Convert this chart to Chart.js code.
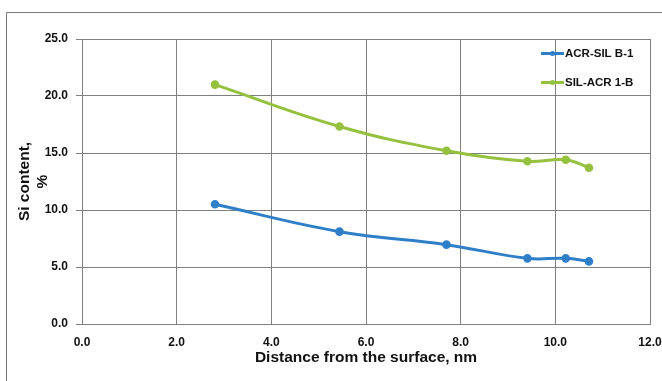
<!DOCTYPE html>
<html>
<head>
<meta charset="utf-8">
<script src="https://cdn.jsdelivr.net/npm/chart.js@4.4.1/dist/chart.umd.min.js"></script>
<style>
  html, body { margin: 0; padding: 0; background: #fff; }
  #wrap { position: relative; width: 662px; height: 381px; }
</style>
</head>
<body>
<div id="wrap"><canvas id="si" width="662" height="381"></canvas></div>
<script>
// distance from the surface (nm) and Si content (%) per profile
const depthAcrSil = [2.81, 5.44, 7.70, 9.41, 10.22, 10.71];
const siAcrSil = [10.5, 8.1, 6.96, 5.76, 5.76, 5.49];
const depthSilAcr = [2.81, 5.44, 7.70, 9.41, 10.22, 10.71];
const siSilAcr = [21.0, 17.33, 15.2, 14.27, 14.41, 13.71];
const seriesNames = ['ACR-SIL B-1', 'SIL-ACR 1-B'];
const seriesColors = ['#2f7fc8', '#95c13f'];

const FONT = 'Liberation Sans';
const gridColor = '#7f7f7f';

const toPoints = (xs, ys) => xs.map((x, i) => ({ x: x, y: ys[i] }));

// frame around the figure plus the legend drawn inside the plot
const framePlugin = {
  id: 'frame',
  beforeDraw(chart) {
    const ctx = chart.ctx;
    ctx.save();
    ctx.fillStyle = '#fff';
    ctx.fillRect(0, 0, chart.width, chart.height);
    ctx.strokeStyle = '#7a7a7a';
    ctx.lineWidth = 1;
    ctx.beginPath();
    ctx.moveTo(6.5, chart.height);
    ctx.lineTo(6.5, 12.5);
    ctx.lineTo(chart.width, 12.5);
    ctx.stroke();
    ctx.restore();
  },
  afterDraw(chart) {
    const ctx = chart.ctx;
    const rows = [53.5, 82.5];
    ctx.save();
    chart.data.datasets.forEach((ds, i) => {
      const y = rows[i];
      ctx.strokeStyle = ds.borderColor;
      ctx.lineWidth = 3;
      ctx.beginPath();
      ctx.moveTo(541, y);
      ctx.lineTo(564, y);
      ctx.stroke();
      ctx.fillStyle = ds.borderColor;
      ctx.beginPath();
      ctx.arc(552.5, y, 2.5, 0, Math.PI * 2);
      ctx.fill();
      ctx.fillStyle = '#111';
      ctx.font = 'bold 11.5px "' + FONT + '"';
      ctx.textBaseline = 'middle';
      ctx.fillText(ds.label, 565, y);
    });
    ctx.restore();
  }
};

new Chart(document.getElementById('si'), {
  type: 'line',
  data: {
    datasets: [
      {
        label: seriesNames[0],
        data: toPoints(depthAcrSil, siAcrSil),
        borderColor: seriesColors[0],
        backgroundColor: seriesColors[0],
        borderWidth: 3,
        pointRadius: 2.8,
        tension: 0.4
      },
      {
        label: seriesNames[1],
        data: toPoints(depthSilAcr, siSilAcr),
        borderColor: seriesColors[1],
        backgroundColor: seriesColors[1],
        borderWidth: 3,
        pointRadius: 2.8,
        tension: 0.4
      }
    ]
  },
  options: {
    responsive: false,
    animation: false,
    devicePixelRatio: 1,
    layout: { padding: { left: 0, top: 39, right: 0, bottom: 0 } },
    plugins: {
      legend: { display: false },
      tooltip: { enabled: false }
    },
    scales: {
      x: {
        type: 'linear',
        min: 0,
        max: 12,
        ticks: {
          stepSize: 2,
          padding: 11,
          color: '#111',
          font: { family: FONT, size: 12, weight: 'bold' },
          callback: (v) => v.toFixed(1)
        },
        grid: { color: gridColor, drawTicks: false },
        border: { color: gridColor },
        title: {
          display: true,
          text: 'Distance from the surface, nm',
          color: '#111',
          font: { family: FONT, size: 15.5, weight: 'bold' },
          padding: { top: 0, bottom: 14 }
        },
        afterFit: (scale) => {
          scale.height = 57;
          scale.paddingRight = 12;
        }
      },
      y: {
        min: 0,
        max: 25,
        ticks: {
          stepSize: 5,
          padding: 8,
          color: '#111',
          font: { family: FONT, size: 12, weight: 'bold' },
          callback: (v) => v.toFixed(1)
        },
        grid: { color: gridColor, tickLength: 6 },
        border: { color: gridColor },
        title: {
          display: true,
          text: ['Si content,', '%'],
          color: '#111',
          font: { family: FONT, size: 15.5, weight: 'bold' },
          padding: { top: 15, bottom: 0 }
        },
        afterFit: (scale) => { scale.width = 82; }
      }
    }
  },
  plugins: [framePlugin]
});
</script>
</body>
</html>
